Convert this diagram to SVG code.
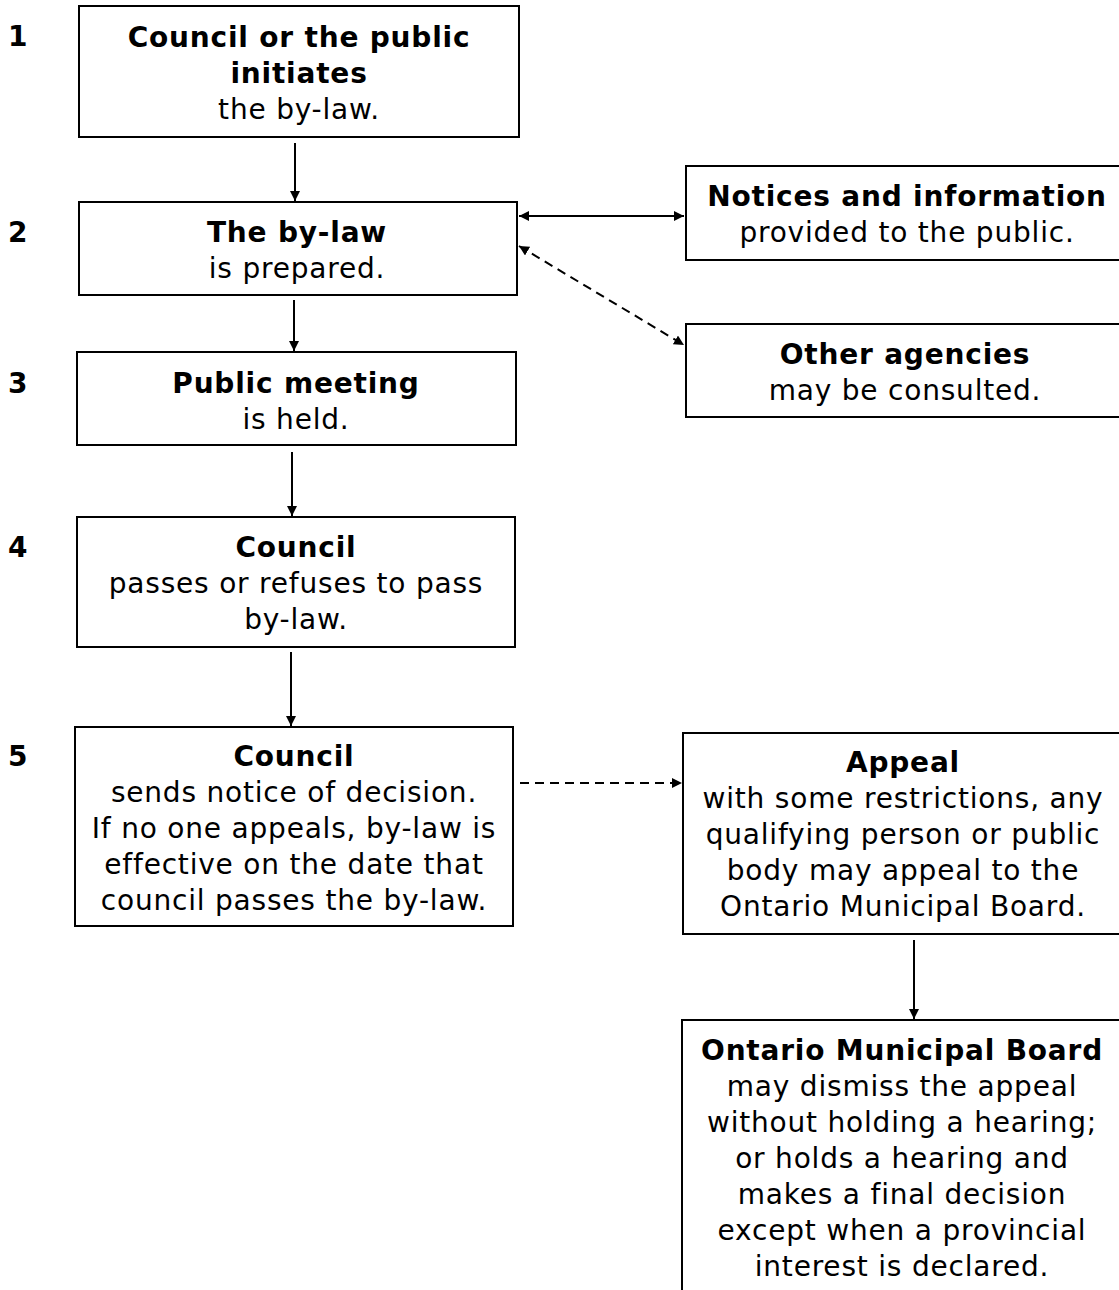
<svg xmlns="http://www.w3.org/2000/svg" width="1119" height="1290" viewBox="0 0 1119 1290">
<style>
.box{fill:#fff;stroke:#000;stroke-width:2}
text{font-family:"DejaVu Sans",Verdana,sans-serif;font-size:28px;letter-spacing:0.8px;fill:#000;text-anchor:middle}
.b{font-weight:bold}
.num{font-weight:bold;text-anchor:start;letter-spacing:0}
.c{stroke:#000;stroke-width:2;fill:none}
.d{stroke-dasharray:9 6}
</style>
<defs>
<marker id="ah" viewBox="0 0 10 10" refX="10" refY="5" markerWidth="5" markerHeight="5" orient="auto-start-reverse" markerUnits="strokeWidth">
<path d="M0,0 L10,5 L0,10 z" fill="#000"/>
</marker>
</defs>
<rect width="1119" height="1290" fill="#fff"/>
<g id="numbers">
<text class="num" x="8" y="46">1</text>
<text class="num" x="8" y="242">2</text>
<text class="num" x="8" y="393">3</text>
<text class="num" x="8" y="557">4</text>
<text class="num" x="8" y="766">5</text>
</g>
<g id="connectors">
<line class="c" x1="295" y1="143" x2="295" y2="201" marker-end="url(#ah)"/>
<line class="c" x1="294" y1="300" x2="294" y2="351" marker-end="url(#ah)"/>
<line class="c" x1="292" y1="452" x2="292" y2="516" marker-end="url(#ah)"/>
<line class="c" x1="291" y1="652" x2="291" y2="726" marker-end="url(#ah)"/>
<line class="c" x1="519" y1="216" x2="684" y2="216" marker-start="url(#ah)" marker-end="url(#ah)"/>
<line class="c d" x1="519" y1="246" x2="684" y2="345" marker-start="url(#ah)" marker-end="url(#ah)"/>
<line class="c d" x1="520" y1="783" x2="682" y2="783" marker-end="url(#ah)"/>
<line class="c" x1="914" y1="940" x2="914" y2="1019" marker-end="url(#ah)"/>
</g>
<g id="n1">
<rect class="box" x="79" y="6" width="440" height="131"/>
<text class="b" x="299" y="47">Council or the public</text>
<text class="b" x="299" y="83">initiates</text>
<text x="299" y="119">the by-law.</text>
</g>
<g id="n2">
<rect class="box" x="79" y="202" width="438" height="93"/>
<text class="b" x="297" y="242">The by-law</text>
<text x="297" y="278">is prepared.</text>
</g>
<g id="n3">
<rect class="box" x="77" y="352" width="439" height="93"/>
<text class="b" x="296" y="393">Public meeting</text>
<text x="296" y="429">is held.</text>
</g>
<g id="n4">
<rect class="box" x="77" y="517" width="438" height="130"/>
<text class="b" x="296" y="557">Council</text>
<text x="296" y="593">passes or refuses to pass</text>
<text x="296" y="629">by-law.</text>
</g>
<g id="n5">
<rect class="box" x="75" y="727" width="438" height="199"/>
<text class="b" x="294" y="766">Council</text>
<text x="294" y="802">sends notice of decision.</text>
<text x="294" y="838">If no one appeals, by-law is</text>
<text x="294" y="874">effective on the date that</text>
<text x="294" y="910">council passes the by-law.</text>
</g>
<g id="notices">
<rect class="box" x="686" y="166" width="440" height="94"/>
<text class="b" x="907" y="206">Notices and information</text>
<text x="907" y="242">provided to the public.</text>
</g>
<g id="agencies">
<rect class="box" x="686" y="324" width="440" height="93"/>
<text class="b" x="905" y="364">Other agencies</text>
<text x="905" y="400">may be consulted.</text>
</g>
<g id="appeal">
<rect class="box" x="683" y="733" width="443" height="201"/>
<text class="b" x="903" y="772">Appeal</text>
<text x="903" y="808">with some restrictions, any</text>
<text x="903" y="844">qualifying person or public</text>
<text x="903" y="880">body may appeal to the</text>
<text x="903" y="916">Ontario Municipal Board.</text>
</g>
<g id="omb">
<rect class="box" x="682" y="1020" width="444" height="290"/>
<text class="b" x="902" y="1060">Ontario Municipal Board</text>
<text x="902" y="1096">may dismiss the appeal</text>
<text x="902" y="1132">without holding a hearing;</text>
<text x="902" y="1168">or holds a hearing and</text>
<text x="902" y="1204">makes a final decision</text>
<text x="902" y="1240">except when a provincial</text>
<text x="902" y="1276">interest is declared.</text>
</g>
</svg>
